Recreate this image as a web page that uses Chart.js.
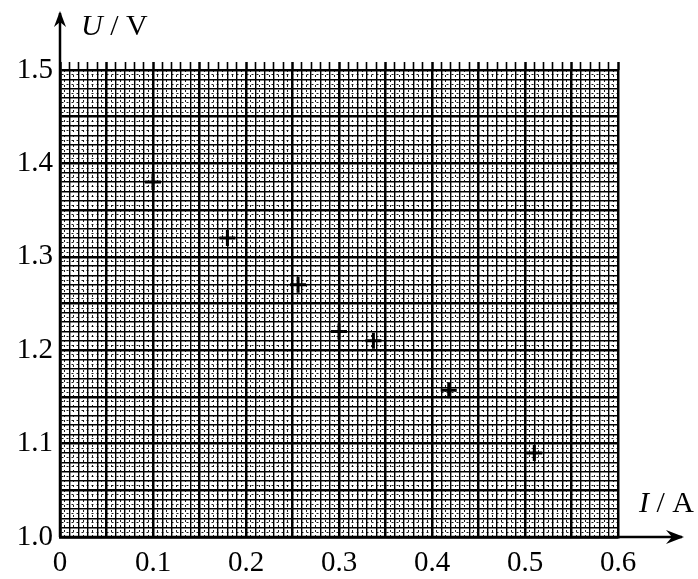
<!DOCTYPE html>
<html>
<head>
<meta charset="utf-8">
<script src="https://cdn.jsdelivr.net/npm/chart.js@4"></script>
<style>
html,body{margin:0;padding:0;background:#fff;}
#wrap{width:698px;height:579px;}
</style>
</head>
<body>
<div id="wrap"><canvas id="c" width="698" height="579"></canvas></div>
<script>
// ---- data ----
const currentI = [0.10, 0.18, 0.256, 0.30, 0.337, 0.418, 0.51];
const voltageU = [1.38, 1.32, 1.27, 1.22, 1.21, 1.157, 1.09];
const xTickValues = [0, 0.1, 0.2, 0.3, 0.4, 0.5, 0.6];
const xTickLabels = ['0', '0.1', '0.2', '0.3', '0.4', '0.5', '0.6'];
const yTickValues = [1.0, 1.1, 1.2, 1.3, 1.4, 1.5];
const yTickLabels = ['1.0', '1.1', '1.2', '1.3', '1.4', '1.5'];
const xTitle = ['I', ' / A'];
const yTitle = ['U', ' / V'];

const FONT = "'Liberation Serif','Times New Roman',serif";

function labelFor(v, vals, labs) {
  for (let i = 0; i < vals.length; i++) {
    if (Math.abs(v - vals[i]) < 1e-6) return labs[i];
  }
  return '';
}
function level(v, base) {
  const k = Math.round((v - base) / 0.005);
  if (k % 10 === 0) return 2;
  if (k % 2 === 0) return 1;
  return 0;
}
function gridWidth(ctx, base) {
  if (!ctx.tick) return 2.5;
  const l = level(ctx.tick.value, base);
  return l === 2 ? 2.5 : (l === 1 ? 1.4 : 0.9);
}
function gridDash(ctx, base) {
  if (!ctx.tick) return [];
  const l = level(ctx.tick.value, base);
  return l === 0 ? [2, 3] : [];
}

const decor = {
  id: 'decor',
  afterDraw(chart) {
    const c = chart.ctx;
    const a = chart.chartArea;
    const x0 = chart.scales.x.getPixelForValue(0);
    const y0 = chart.scales.y.getPixelForValue(1.0);
    c.save();
    c.strokeStyle = '#000';
    c.fillStyle = '#000';
    c.lineWidth = 2.5;
    // y axis extension + arrow
    const yTip = a.top - 59;
    c.beginPath();
    c.moveTo(x0, y0);
    c.lineTo(x0, yTip + 2);
    c.stroke();
    c.beginPath();
    c.moveTo(x0, yTip);
    c.lineTo(x0 - 6, yTip + 16);
    c.lineTo(x0, yTip + 11);
    c.lineTo(x0 + 6, yTip + 16);
    c.closePath();
    c.fill();
    // x axis extension + arrow
    const xTip = a.right + 66;
    c.beginPath();
    c.moveTo(x0, y0);
    c.lineTo(xTip - 2, y0);
    c.stroke();
    c.beginPath();
    c.moveTo(xTip, y0);
    c.lineTo(xTip - 18, y0 - 7);
    c.lineTo(xTip - 12, y0);
    c.lineTo(xTip - 18, y0 + 7);
    c.closePath();
    c.fill();
    // titles
    c.textBaseline = 'alphabetic';
    c.textAlign = 'left';
    c.font = 'italic 30px ' + FONT;
    let tx = x0 + 21, ty = a.top - 35;
    c.fillText(yTitle[0], tx, ty);
    tx += c.measureText(yTitle[0]).width;
    c.font = '30px ' + FONT;
    c.fillText(yTitle[1], tx, ty);
    c.font = 'italic 30px ' + FONT;
    tx = a.right + 21; ty = y0 - 25;
    c.fillText(xTitle[0], tx, ty);
    tx += c.measureText(xTitle[0]).width;
    c.font = '30px ' + FONT;
    c.fillText(xTitle[1], tx, ty);
    c.restore();
  }
};

new Chart(document.getElementById('c'), {
  type: 'scatter',
  data: {
    datasets: [{
      data: currentI.map((v, i) => ({x: v, y: voltageU[i]})),
      pointStyle: 'cross',
      radius: 8,
      borderWidth: 3,
      borderColor: '#000',
      backgroundColor: '#000'
    }]
  },
  options: {
    responsive: false,
    animation: false,
    events: [],
    layout: {padding: {left: 0, right: 80, top: 0, bottom: 0}},
    plugins: {legend: {display: false}, tooltip: {enabled: false}},
    scales: {
      x: {
        type: 'linear', position: 'bottom', min: 0, max: 0.6,
        afterFit(s) { s.height = 42; },
        ticks: {
          stepSize: 0.005, autoSkip: false, maxRotation: 0, padding: 9,
          color: '#000', font: {family: FONT, size: 29},
          callback: (v) => labelFor(v, xTickValues, xTickLabels)
        },
        grid: {
          color: '#000', drawTicks: false,
          lineWidth: (ctx) => gridWidth(ctx, 0)
        },
        border: {display: true, color: '#000', width: 2.5, dash: (ctx) => gridDash(ctx, 0)}
      },
      xTop: {
        type: 'linear', position: 'top', min: 0, max: 0.6,
        afterFit(s) { s.height = 70; },
        ticks: {stepSize: 0.01, autoSkip: false, display: false},
        grid: {
          drawOnChartArea: false, drawTicks: true, tickLength: 8, color: '#000',
          tickWidth: (ctx) => (ctx.tick && level(ctx.tick.value, 0) === 2) ? 2.5 : 1.6
        },
        border: {display: false}
      },
      y: {
        type: 'linear', position: 'left', min: 1.0, max: 1.5,
        afterFit(s) { s.width = 60; },
        ticks: {
          stepSize: 0.005, autoSkip: false, padding: 7,
          color: '#000', font: {family: FONT, size: 29},
          callback: (v) => labelFor(v, yTickValues, yTickLabels)
        },
        grid: {
          color: '#000', drawTicks: false,
          lineWidth: (ctx) => gridWidth(ctx, 1.0)
        },
        border: {display: true, color: '#000', width: 2.5, dash: (ctx) => gridDash(ctx, 1.0)}
      }
    }
  },
  plugins: [decor]
});
</script>
</body>
</html>
